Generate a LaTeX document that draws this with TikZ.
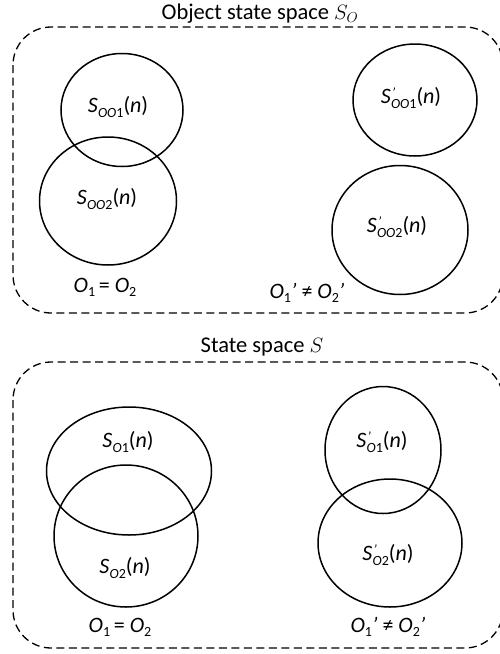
\documentclass[tikz,border=0pt]{standalone}
\usepackage{fontspec}
\setmainfont{Carlito}
\usetikzlibrary{shapes.geometric}
\tikzset{
  setell/.style={draw, ellipse, line width=1.5pt, inner sep=0pt, outer sep=0pt},
  spacebox/.style={draw, dash pattern=on 8pt off 4.5pt, line width=1.3pt, rounded corners=38pt},
  lbl/.style={font=\fontsize{22}{26}\selectfont, inner sep=0pt},
  ttl/.style={font=\fontsize{22.5}{26}\selectfont, inner sep=0pt},
}
\newcommand{\subtxt}[1]{\raisebox{-0.4ex}{\fontsize{14}{15}\selectfont #1}}
\newcommand{\Sset}[2]{\textit{S}\kern0.3pt\subtxt{\textit{#1}#2}(\textit{n})}
\newcommand{\Spset}[2]{\textit{S}\makebox[0pt][l]{\raisebox{0.6ex}{\fontsize{14}{15}\selectfont\kern1pt\textit{'}}}\kern0.3pt\subtxt{\textit{#1}#2}(\textit{n})}
\newcommand{\Oi}[1]{\textit{O}\subtxt{#1}}
\begin{document}
\begin{tikzpicture}[x=1pt,y=-1pt]
\path[use as bounding box] (0,0) rectangle (500,654);
\clip (0,0) rectangle (500,654);
% top panel
\node[ttl] (t1) at (260,14) {Object state space $S_O$};
\draw[spacebox] (13,27) rectangle (503,313);
\node[setell, minimum width=122pt, minimum height=113pt] (a1) at (122,110) {};
\node[setell, minimum width=137pt, minimum height=128pt] (a2) at (108,201) {};
\node[lbl] (la1) at (118,107) {\Sset{OO}{1}};
\node[lbl] (la2) at (107,199) {\Sset{OO}{2}};
\node[lbl] (ea) at (105,287) {\Oi{1}\,= \Oi{2}};
\node[setell, minimum width=124pt, minimum height=112pt] (b1) at (415,100) {};
\node[setell, minimum width=136pt, minimum height=129pt] (b2) at (400,230) {};
\node[lbl] (lb1) at (411,98) {\Spset{OO}{1}};
\node[lbl] (lb2) at (397,227) {\Spset{OO}{2}};
\node[lbl] (eb) at (307,293) {\Oi{1}\textit{'} ≠ \Oi{2}\textit{'}};
% bottom panel
\node[ttl] (t2) at (262,347) {State space $S$};
\draw[spacebox] (13,362) rectangle (503,648);
\node[setell, minimum width=165pt, minimum height=128pt] (c1) at (129,471) {};
\node[setell, minimum width=144pt, minimum height=142pt] (c2) at (126,536) {};
\node[lbl] (lc1) at (128,442) {\Sset{O}{1}};
\node[lbl] (lc2) at (125,568) {\Sset{O}{2}};
\node[lbl] (ec) at (120,627) {\Oi{1}\,= \Oi{2}};
\node[setell, minimum width=116pt, minimum height=127pt] (d1) at (383,450) {};
\node[setell, minimum width=144pt, minimum height=128pt] (d2) at (390,543) {};
\node[lbl] (ld1) at (382,442) {\Spset{O}{1}};
\node[lbl] (ld2) at (388,555) {\Spset{O}{2}};
\node[lbl] (ed) at (388,627) {\Oi{1}\textit{'} ≠ \Oi{2}\textit{'}};
\end{tikzpicture}
\end{document}
